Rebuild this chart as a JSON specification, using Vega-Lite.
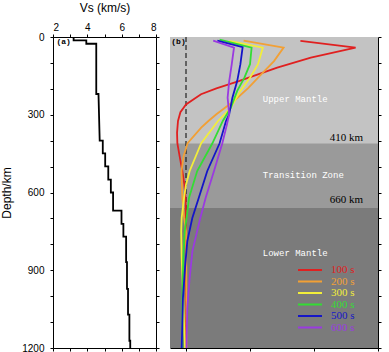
{
  "$schema": "https://vega.github.io/schema/vega-lite/v6.json",
  "padding": {"left": 0, "top": 1, "right": 0, "bottom": 0},
  "spacing": 10,
  "config": {
    "font": "Liberation Sans",
    "view": {"stroke": null},
    "axis": {"domainColor": "black", "tickColor": "black", "labelColor": "black", "titleColor": "black", "labelFontSize": 10, "titleFontSize": 12, "titleFontWeight": "normal", "grid": false, "tickSize": 3, "zindex": 1, "labelFont": "Liberation Sans", "titleFont": "Liberation Sans"}
  },
  "hconcat": [
    {
      "width": 103,
      "height": 311,
      "data": {"values": [
        {"i":0,"vs":3.2,"depth":0},{"i":1,"vs":3.2,"depth":13},{"i":2,"vs":3.94,"depth":13},{"i":3,"vs":3.94,"depth":26},
        {"i":4,"vs":4.52,"depth":26},{"i":5,"vs":4.52,"depth":220},{"i":6,"vs":4.65,"depth":220},{"i":7,"vs":4.72,"depth":400},
        {"i":8,"vs":4.9,"depth":400},{"i":9,"vs":4.9,"depth":449},{"i":10,"vs":5.04,"depth":449},{"i":11,"vs":5.04,"depth":499},
        {"i":12,"vs":5.22,"depth":499},{"i":13,"vs":5.22,"depth":550},{"i":14,"vs":5.37,"depth":550},{"i":15,"vs":5.37,"depth":600},
        {"i":16,"vs":5.5,"depth":600},{"i":17,"vs":5.5,"depth":670},{"i":18,"vs":5.99,"depth":670},{"i":19,"vs":5.99,"depth":721},
        {"i":20,"vs":6.1,"depth":721},{"i":21,"vs":6.1,"depth":770},{"i":22,"vs":6.26,"depth":770},{"i":23,"vs":6.26,"depth":869},
        {"i":24,"vs":6.31,"depth":869},{"i":25,"vs":6.31,"depth":972},{"i":26,"vs":6.37,"depth":972},{"i":27,"vs":6.37,"depth":1071},
        {"i":28,"vs":6.45,"depth":1071},{"i":29,"vs":6.45,"depth":1172},{"i":30,"vs":6.5,"depth":1172},{"i":31,"vs":6.5,"depth":1200}
      ]},
      "layer": [
        {
          "mark": {"type": "line", "color": "black", "strokeWidth": 1.8},
          "encoding": {
            "x": {"field": "vs", "type": "quantitative", "scale": {"domain": [2, 8], "nice": false, "zero": false},
                  "axis": {"orient": "top", "title": "Vs (km/s)", "values": [2,3,4,5,6,7,8], "format": "d", "labelExpr": "datum.value % 2 == 0 ? datum.label : ''", "titlePadding": 8}},
            "y": {"field": "depth", "type": "quantitative", "scale": {"domain": [0, 1200], "reverse": true, "nice": false},
                  "axis": {"orient": "left", "title": "Depth/km", "values": [0,100,200,300,400,500,600,700,800,900,1000,1100,1200], "format": "d", "labelExpr": "datum.value % 300 == 0 ? datum.label : ''", "labelPadding": 6, "titlePadding": 8}},
            "order": {"field": "i", "type": "quantitative"}
          }
        },
        {
          "mark": {"type": "line", "opacity": 0},
          "encoding": {
            "x": {"field": "vs", "type": "quantitative", "axis": {"orient": "bottom", "title": null, "labels": false, "values": [2,3,4,5,6,7,8]}},
            "y": {"field": "depth", "type": "quantitative", "axis": {"orient": "right", "title": null, "labels": false, "values": [0,100,200,300,400,500,600,700,800,900,1000,1100,1200]}},
            "order": {"field": "i", "type": "quantitative"}
          }
        },
        {
          "data": {"values": [{"tag": "(a)"}]},
          "mark": {"type": "text", "font": "Liberation Mono", "fontWeight": "bold", "fontSize": 8, "align": "left", "baseline": "middle", "color": "black"},
          "encoding": {
            "x": {"datum": 2.2, "type": "quantitative", "axis": null},
            "y": {"datum": 19, "type": "quantitative", "axis": null},
            "text": {"field": "tag"}
          }
        }
      ],
      "resolve": {"axis": {"x": "independent", "y": "independent"}}
    },
    {
      "width": 208,
      "height": 311,
      "layer": [
        {
          "layer": [
            {
              "data": {"values": [
                {"zone": "Upper Mantle", "top": 0, "bottom": 410},
                {"zone": "Transition Zone", "top": 410, "bottom": 660},
                {"zone": "Lower Mantle", "top": 660, "bottom": 1200}
              ]},
              "mark": {"type": "rect"},
              "encoding": {
                "x": {"datum": -0.001, "type": "quantitative", "axis": null},
                "x2": {"datum": 0.012},
                "y": {"field": "top", "type": "quantitative", "axis": null},
                "y2": {"field": "bottom"},
                "fill": {"field": "zone", "type": "nominal", "scale": {"domain": ["Upper Mantle", "Transition Zone", "Lower Mantle"], "range": ["#c3c3c3", "#9a9a9a", "#7b7b7b"]}, "legend": null}
              }
            },
            {
              "data": {"values": [{}]},
              "mark": {"type": "rule", "color": "black", "strokeDash": [5, 3], "strokeWidth": 1},
              "encoding": {"x": {"datum": 0, "type": "quantitative", "axis": null}}
            },
            {
              "data": {"name": "curves"},
              "mark": {"type": "line", "strokeWidth": 1.8},
              "encoding": {
                "x": {"field": "v", "type": "quantitative", "scale": {"domain": [-0.001, 0.012], "nice": false, "zero": false},
                      "axis": {"orient": "top", "title": "dU/dVs", "values": [0, 0.002, 0.004, 0.006, 0.008, 0.010, 0.012], "format": ".3f", "labelExpr": "round(datum.value * 1000) % 4 == 0 ? datum.label : ''", "titlePadding": 8}},
                "y": {"field": "depth", "type": "quantitative", "scale": {"domain": [0, 1200], "reverse": true, "nice": false},
                      "axis": {"orient": "left", "title": null, "labels": false, "values": [0,100,200,300,400,500,600,700,800,900,1000,1100,1200]}},
                "color": {"field": "p", "type": "nominal",
                          "scale": {"domain": ["100 s", "200 s", "300 s", "400 s", "500 s", "600 s"], "range": ["#e02020", "#f2a035", "#f2ee3a", "#33dd33", "#1515c8", "#9a3ae0"]},
                          "legend": {"orient": "none", "legendX": 251, "legendY": 227, "title": null, "symbolType": "M-2.4,0H2.4", "symbolSize": 100, "symbolStrokeWidth": 2, "labelFont": "Liberation Serif", "labelFontSize": 11, "labelColor": {"expr": "scale('color', datum.value)"}, "rowPadding": 0.5, "labelOffset": 15}},
                "order": {"field": "depth", "type": "quantitative"}
              }
            },
            {
              "data": {"values": [{"t": "Upper Mantle"}]},
              "mark": {"type": "text", "font": "Liberation Mono", "fontSize": 9, "color": "white", "align": "left", "baseline": "middle"},
              "encoding": {"x": {"datum": 0.0048, "type": "quantitative", "axis": null}, "y": {"datum": 239, "type": "quantitative", "axis": null}, "text": {"field": "t"}}
            },
            {
              "data": {"values": [{"t": "Transition Zone"}]},
              "mark": {"type": "text", "font": "Liberation Mono", "fontSize": 9, "color": "white", "align": "left", "baseline": "middle"},
              "encoding": {"x": {"datum": 0.0048, "type": "quantitative", "axis": null}, "y": {"datum": 533, "type": "quantitative", "axis": null}, "text": {"field": "t"}}
            },
            {
              "data": {"values": [{"t": "Lower Mantle"}]},
              "mark": {"type": "text", "font": "Liberation Mono", "fontSize": 9, "color": "white", "align": "left", "baseline": "middle"},
              "encoding": {"x": {"datum": 0.0048, "type": "quantitative", "axis": null}, "y": {"datum": 832, "type": "quantitative", "axis": null}, "text": {"field": "t"}}
            },
            {
              "data": {"values": [{"t": "410 km"}]},
              "mark": {"type": "text", "font": "Liberation Serif", "fontSize": 11, "color": "black", "align": "right", "baseline": "alphabetic"},
              "encoding": {"x": {"datum": 0.01106, "type": "quantitative", "axis": null}, "y": {"datum": 402, "type": "quantitative", "axis": null}, "text": {"field": "t"}}
            },
            {
              "data": {"values": [{"t": "660 km"}]},
              "mark": {"type": "text", "font": "Liberation Serif", "fontSize": 11, "color": "black", "align": "right", "baseline": "alphabetic"},
              "encoding": {"x": {"datum": 0.01106, "type": "quantitative", "axis": null}, "y": {"datum": 640, "type": "quantitative", "axis": null}, "text": {"field": "t"}}
            },
            {
              "data": {"values": [{"t": "(b)"}]},
              "mark": {"type": "text", "font": "Liberation Mono", "fontWeight": "bold", "fontSize": 8, "color": "black", "align": "left", "baseline": "middle"},
              "encoding": {"x": {"datum": -0.00092, "type": "quantitative", "axis": null}, "y": {"datum": 19, "type": "quantitative", "axis": null}, "text": {"field": "t"}}
            }
          ]
        },
        {
          "data": {"name": "curves"},
          "mark": {"type": "line", "opacity": 0},
          "encoding": {
            "x": {"field": "v", "type": "quantitative", "axis": {"orient": "bottom", "title": null, "labels": false, "values": [0, 0.004, 0.008, 0.012]}},
            "y": {"field": "depth", "type": "quantitative", "axis": {"orient": "right", "title": null, "labels": false, "values": [0,100,200,300,400,500,600,700,800,900,1000,1100,1200]}},
            "detail": {"field": "p"},
            "order": {"field": "depth", "type": "quantitative"}
          }
        }
      ],
      "resolve": {"axis": {"x": "independent", "y": "independent"}}
    }
  ],
  "datasets": {
    "curves": [
      {"p":"100 s","depth":15,"v":0.00715},{"p":"100 s","depth":41,"v":0.0106},{"p":"100 s","depth":80,"v":0.0078},{"p":"100 s","depth":118,"v":0.0057},
      {"p":"100 s","depth":144,"v":0.0045},{"p":"100 s","depth":170,"v":0.0033},{"p":"100 s","depth":198,"v":0.0019},{"p":"100 s","depth":221,"v":0.00094},
      {"p":"100 s","depth":260,"v":0},{"p":"100 s","depth":290,"v":-0.00035},{"p":"100 s","depth":324,"v":-0.0005},{"p":"100 s","depth":370,"v":-0.00056},
      {"p":"100 s","depth":410,"v":-0.00054},{"p":"100 s","depth":460,"v":-0.0004},{"p":"100 s","depth":517,"v":-0.00023},{"p":"100 s","depth":570,"v":-0.0001},
      {"p":"100 s","depth":620,"v":-0.00003},{"p":"100 s","depth":700,"v":0},{"p":"100 s","depth":1000,"v":0},{"p":"100 s","depth":1200,"v":0},

      {"p":"200 s","depth":14,"v":0.0036},{"p":"200 s","depth":41,"v":0.0061},{"p":"200 s","depth":93,"v":0.0055},{"p":"200 s","depth":144,"v":0.0047},
      {"p":"200 s","depth":196,"v":0.0039},{"p":"200 s","depth":247,"v":0.003},{"p":"200 s","depth":298,"v":0.0019},{"p":"200 s","depth":324,"v":0.0014},
      {"p":"200 s","depth":350,"v":0.00095},{"p":"200 s","depth":410,"v":0.0001},{"p":"200 s","depth":460,"v":-0.00015},{"p":"200 s","depth":517,"v":-0.00028},
      {"p":"200 s","depth":620,"v":-0.00023},{"p":"200 s","depth":697,"v":-0.00012},{"p":"200 s","depth":750,"v":0},{"p":"200 s","depth":900,"v":0.00002},{"p":"200 s","depth":1200,"v":0.00003},

      {"p":"300 s","depth":15,"v":0.0027},{"p":"300 s","depth":41,"v":0.0048},{"p":"300 s","depth":105,"v":0.0045},{"p":"300 s","depth":157,"v":0.004},
      {"p":"300 s","depth":208,"v":0.0034},{"p":"300 s","depth":273,"v":0.0028},{"p":"300 s","depth":324,"v":0.002},{"p":"300 s","depth":410,"v":0.00095},
      {"p":"300 s","depth":517,"v":0.00023},{"p":"300 s","depth":570,"v":0},{"p":"300 s","depth":620,"v":-0.00012},{"p":"300 s","depth":697,"v":-0.00027},
      {"p":"300 s","depth":750,"v":-0.0003},{"p":"300 s","depth":852,"v":-0.00027},{"p":"300 s","depth":981,"v":-0.00019},{"p":"300 s","depth":1110,"v":-0.00012},
      {"p":"300 s","depth":1200,"v":-0.00006},

      {"p":"400 s","depth":10,"v":0.0021},{"p":"400 s","depth":41,"v":0.0041},{"p":"400 s","depth":105,"v":0.004},{"p":"400 s","depth":157,"v":0.00365},
      {"p":"400 s","depth":208,"v":0.0032},{"p":"400 s","depth":273,"v":0.0028},{"p":"400 s","depth":324,"v":0.0023},{"p":"400 s","depth":410,"v":0.00165},
      {"p":"400 s","depth":517,"v":0.0007},{"p":"400 s","depth":620,"v":0.00019},{"p":"400 s","depth":697,"v":0.00004},{"p":"400 s","depth":750,"v":-0.00008},
      {"p":"400 s","depth":852,"v":-0.00017},{"p":"400 s","depth":981,"v":-0.00022},{"p":"400 s","depth":1110,"v":-0.00023},{"p":"400 s","depth":1200,"v":-0.00023},

      {"p":"500 s","depth":14,"v":0.00196},{"p":"500 s","depth":39,"v":0.00354},{"p":"500 s","depth":105,"v":0.0034},{"p":"500 s","depth":170,"v":0.0032},
      {"p":"500 s","depth":234,"v":0.0029},{"p":"500 s","depth":298,"v":0.0027},{"p":"500 s","depth":324,"v":0.0025},{"p":"500 s","depth":410,"v":0.0021},
      {"p":"500 s","depth":517,"v":0.00133},{"p":"500 s","depth":620,"v":0.0008},{"p":"500 s","depth":697,"v":0.0004},{"p":"500 s","depth":788,"v":0.00008},
      {"p":"500 s","depth":891,"v":-0.00006},{"p":"500 s","depth":1007,"v":-0.00019},{"p":"500 s","depth":1110,"v":-0.00023},{"p":"500 s","depth":1200,"v":-0.00027},

      {"p":"600 s","depth":14,"v":0.0017},{"p":"600 s","depth":41,"v":0.003},{"p":"600 s","depth":105,"v":0.00286},{"p":"600 s","depth":170,"v":0.0027},
      {"p":"600 s","depth":234,"v":0.0026},{"p":"600 s","depth":298,"v":0.0027},{"p":"600 s","depth":340,"v":0.00255},{"p":"600 s","depth":410,"v":0.00227},
      {"p":"600 s","depth":517,"v":0.00175},{"p":"600 s","depth":620,"v":0.00123},{"p":"600 s","depth":697,"v":0.0009},{"p":"600 s","depth":826,"v":0.0004},
      {"p":"600 s","depth":929,"v":0.00023},{"p":"600 s","depth":1045,"v":0.00008},{"p":"600 s","depth":1200,"v":0.00003}
    ]
  }
}
